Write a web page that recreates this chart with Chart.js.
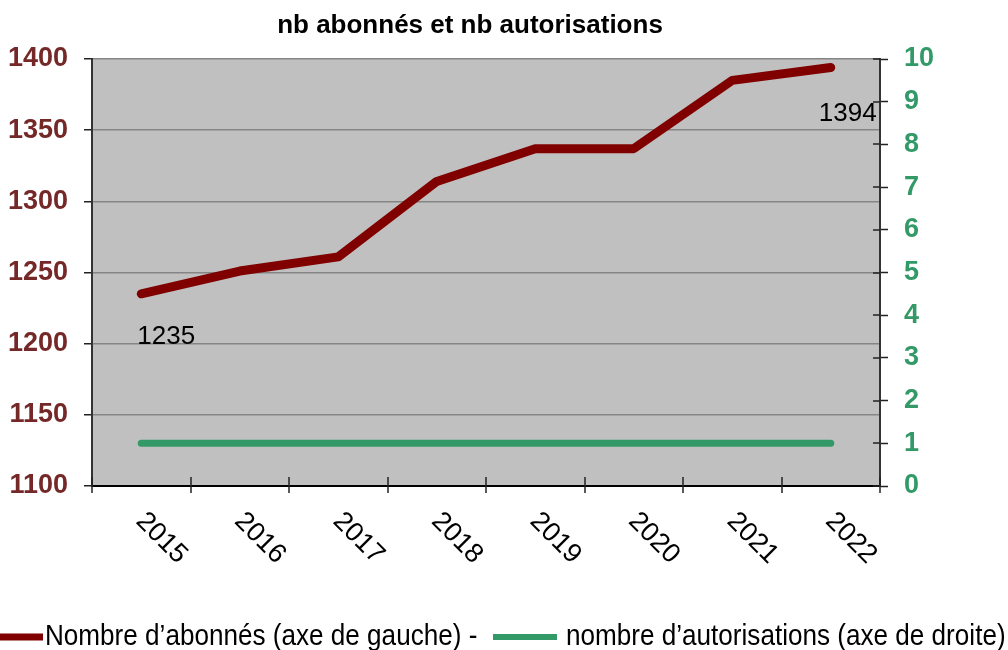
<!DOCTYPE html>
<html>
<head>
<meta charset="utf-8">
<script src="https://cdn.jsdelivr.net/npm/chart.js@4.4.0/dist/chart.umd.min.js"></script>
<style>
    body { margin: 0; background: #fff; }
</style>
</head>
<body>
<canvas id="abonnesChart" width="1008" height="650"></canvas>
<script>
const years = ['2015', '2016', '2017', '2018', '2019', '2020', '2021', '2022'];
const abonnes = [1235, 1251, 1261, 1314, 1337, 1337, 1385, 1394];
const autorisations = [1, 1, 1, 1, 1, 1, 1, 1];
const leftAxis = { min: 1100, max: 1400, step: 50 };
const rightAxis = { min: 0, max: 10, step: 1 };

const chartTitle = 'nb abonnés et nb autorisations';
const labelFont = '"Liberation Sans", Arial, sans-serif';

// grey plot background
const plotBackground = {
    id: 'plotBackground',
    beforeDraw(chart) {
        const a = chart.chartArea;
        const ctx = chart.ctx;
        ctx.save();
        ctx.fillStyle = '#c0c0c0';
        ctx.fillRect(a.left, a.top, a.right - a.left, a.bottom - a.top);
        ctx.restore();
    }
};

// everything the built-in options can't do the same way as the original
const extras = {
    id: 'extras',
    afterDraw(chart) {
        const ctx = chart.ctx;
        const a = chart.chartArea;
        const x = chart.scales.x;
        const y1 = chart.scales.y1;
        ctx.save();

        // x tick marks at category borders, crossing the axis
        ctx.strokeStyle = '#222';
        ctx.lineWidth = 1.5;
        const n = years.length;
        for (let i = 0; i <= n; i++) {
            const px = Math.round(a.left + i * (a.right - a.left) / n);
            ctx.beginPath();
            ctx.moveTo(px, a.bottom - 9);
            ctx.lineTo(px, a.bottom + 7);
            ctx.stroke();
        }
        // inner part of right axis ticks
        y1.ticks.forEach(t => {
            const py = Math.round(y1.getPixelForValue(t.value));
            ctx.beginPath();
            ctx.moveTo(a.right - 7, py);
            ctx.lineTo(a.right, py);
            ctx.stroke();
        });

        // rotated year labels
        ctx.fillStyle = '#000';
        ctx.font = '27px ' + labelFont;
        ctx.textAlign = 'left';
        ctx.textBaseline = 'middle';
        years.forEach((yr, i) => {
            ctx.save();
            ctx.translate(x.getPixelForTick(i) - 1, a.bottom + 31);
            ctx.rotate(Math.PI / 4);
            ctx.fillText(yr, 0, 0);
            ctx.restore();
        });

        // data labels on first and last point
        const meta = chart.getDatasetMeta(0);
        const first = meta.data[0];
        const last = meta.data[meta.data.length - 1];
        ctx.font = '26px ' + labelFont;
        ctx.textBaseline = 'alphabetic';
        ctx.fillText(String(abonnes[0]), first.x - 4, first.y + 50);
        ctx.fillText(String(abonnes[abonnes.length - 1]), last.x - 12, last.y + 53);

        // title
        ctx.font = 'bold 26px ' + labelFont;
        ctx.textAlign = 'center';
        ctx.fillText(chartTitle, 470, 33);

        // legend
        const ds = chart.data.datasets;
        ctx.lineCap = 'butt';
        ctx.strokeStyle = ds[0].borderColor;
        ctx.lineWidth = 7;
        ctx.beginPath();
        ctx.moveTo(0, 637);
        ctx.lineTo(43, 637);
        ctx.stroke();
        ctx.strokeStyle = ds[1].borderColor;
        ctx.lineWidth = 6;
        ctx.beginPath();
        ctx.moveTo(493, 637);
        ctx.lineTo(557, 637);
        ctx.stroke();

        ctx.font = '29px ' + labelFont;
        ctx.textAlign = 'left';
        ctx.fillStyle = '#000';
        [[ds[0].label, 45], [ds[1].label, 566]].forEach(([txt, tx]) => {
            ctx.save();
            ctx.translate(tx, 645);
            ctx.scale(0.9, 1);
            ctx.fillText(txt, 0, 0);
            ctx.restore();
        });

        ctx.restore();
    }
};

const ctx = document.getElementById('abonnesChart').getContext('2d');
const abonnesChart = new Chart(ctx, {
    type: 'line',
    data: {
        labels: years,
        datasets: [{
            label: 'Nombre d’abonnés (axe de gauche) -',
            data: abonnes,
            yAxisID: 'y',
            borderColor: '#800000',
            borderWidth: 9,
            borderCapStyle: 'round',
            borderJoinStyle: 'round',
            pointRadius: 0,
            tension: 0
        }, {
            label: 'nombre d’autorisations (axe de droite)',
            data: autorisations,
            yAxisID: 'y1',
            borderColor: '#339966',
            borderWidth: 7,
            borderCapStyle: 'round',
            pointRadius: 0,
            tension: 0
        }]
    },
    options: {
        responsive: false,
        animation: false,
        layout: { padding: { top: 59, left: 0, right: 0, bottom: 0 } },
        plugins: {
            legend: { display: false },
            title: { display: false },
            tooltip: { enabled: false }
        },
        scales: {
            x: {
                offset: true,
                grid: { drawOnChartArea: false, drawTicks: false },
                border: { color: '#000', width: 2 },
                ticks: { display: false },
                afterFit: s => { s.height = 164; }
            },
            y: {
                position: 'left',
                min: leftAxis.min,
                max: leftAxis.max,
                ticks: {
                    stepSize: leftAxis.step,
                    padding: 16,
                    color: '#752828',
                    font: { family: labelFont, size: 27, weight: 'bold' },
                    callback: v => String(v)
                },
                grid: { color: '#858585', lineWidth: 1.5, tickLength: 8, tickColor: '#222', tickWidth: 1.5 },
                border: { color: '#333', width: 2 },
                afterFit: s => { s.width = 92; }
            },
            y1: {
                position: 'right',
                min: rightAxis.min,
                max: rightAxis.max,
                ticks: {
                    stepSize: rightAxis.step,
                    padding: 16,
                    color: '#339966',
                    font: { family: labelFont, size: 27, weight: 'bold' },
                    callback: v => String(v)
                },
                grid: { drawOnChartArea: false, tickLength: 8, tickColor: '#222', tickWidth: 1.5 },
                border: { color: '#333', width: 2 },
                afterFit: s => { s.width = 128; }
            }
        }
    },
    plugins: [plotBackground, extras]
});
</script>
</body>
</html>
